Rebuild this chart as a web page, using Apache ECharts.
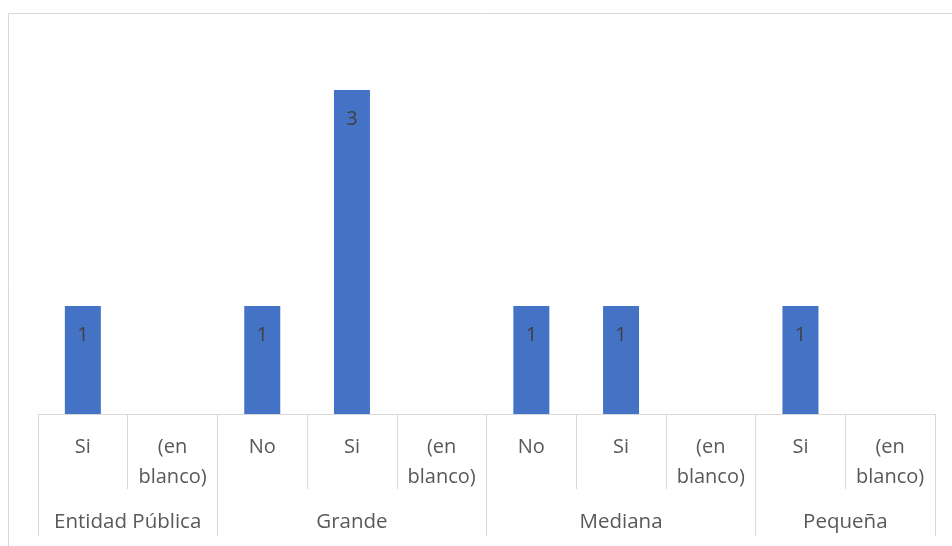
<!DOCTYPE html>
<html>
<head>
<meta charset="utf-8">
<script src="https://cdn.jsdelivr.net/npm/echarts@6/dist/echarts.min.js"></script>
<style>
  html, body { margin: 0; padding: 0; background: #fff; }
  #chart { width: 952px; height: 546px; }
</style>
</head>
<body>
<div id="chart"></div>
<script>
const groups = ['Entidad Pública', 'Grande', 'Mediana', 'Pequeña'];
const groupSizes = [2, 3, 3, 2];
const subLabels = ['Si', '(en blanco)', 'No', 'Si', '(en blanco)', 'No', 'Si', '(en blanco)', 'Si', '(en blanco)'];
const counts = [1, null, 1, 3, null, 1, 1, null, 1, null];

const font = 'Open Sans';
const gray = '#d9d9d9';

// group boundaries and centres, in category units
const bounds = [0];
const centres = [];
groupSizes.forEach((n) => {
  const start = bounds[bounds.length - 1];
  centres.push(start + n / 2);
  bounds.push(start + n);
});

const chart = echarts.init(document.getElementById('chart'));
chart.setOption({
  animation: false,
  graphic: [{
    type: 'rect',
    shape: { x: 8.5, y: 13.5, width: 1000, height: 600 },
    style: { fill: 'none', stroke: gray, lineWidth: 1 },
    silent: true
  }],
  grid: { left: 38, right: 17, top: 36, bottom: 132 },
  xAxis: [{
    type: 'category',
    data: subLabels,
    axisLine: { lineStyle: { color: gray, width: 1 } },
    axisTick: { show: true, interval: 0, length: 75, lineStyle: { color: gray } },
    axisLabel: {
      interval: 0,
      margin: 18,
      color: '#595959',
      fontFamily: font,
      fontSize: 20,
      lineHeight: 30,
      formatter: (v) => v.replace(' ', '\n')
    }
  }, {
    type: 'value',
    position: 'bottom',
    min: 0,
    max: bounds[bounds.length - 1],
    splitLine: { show: false },
    axisLine: { show: false },
    axisTick: { show: true, customValues: bounds, length: 122, lineStyle: { color: gray } },
    axisLabel: {
      customValues: centres,
      margin: 93,
      color: '#595959',
      fontFamily: font,
      fontSize: 20.5,
      lineHeight: 30,
      formatter: (v) => groups[centres.indexOf(v)]
    }
  }],
  yAxis: {
    type: 'value',
    min: 0,
    max: 3.5,
    show: false
  },
  series: [{
    type: 'bar',
    data: counts,
    barWidth: 36,
    itemStyle: { color: '#4472c4' },
    label: {
      show: true,
      position: 'insideTop',
      distance: 19,
      color: '#404040',
      fontFamily: font,
      fontSize: 20
    }
  }]
});
</script>
</body>
</html>
